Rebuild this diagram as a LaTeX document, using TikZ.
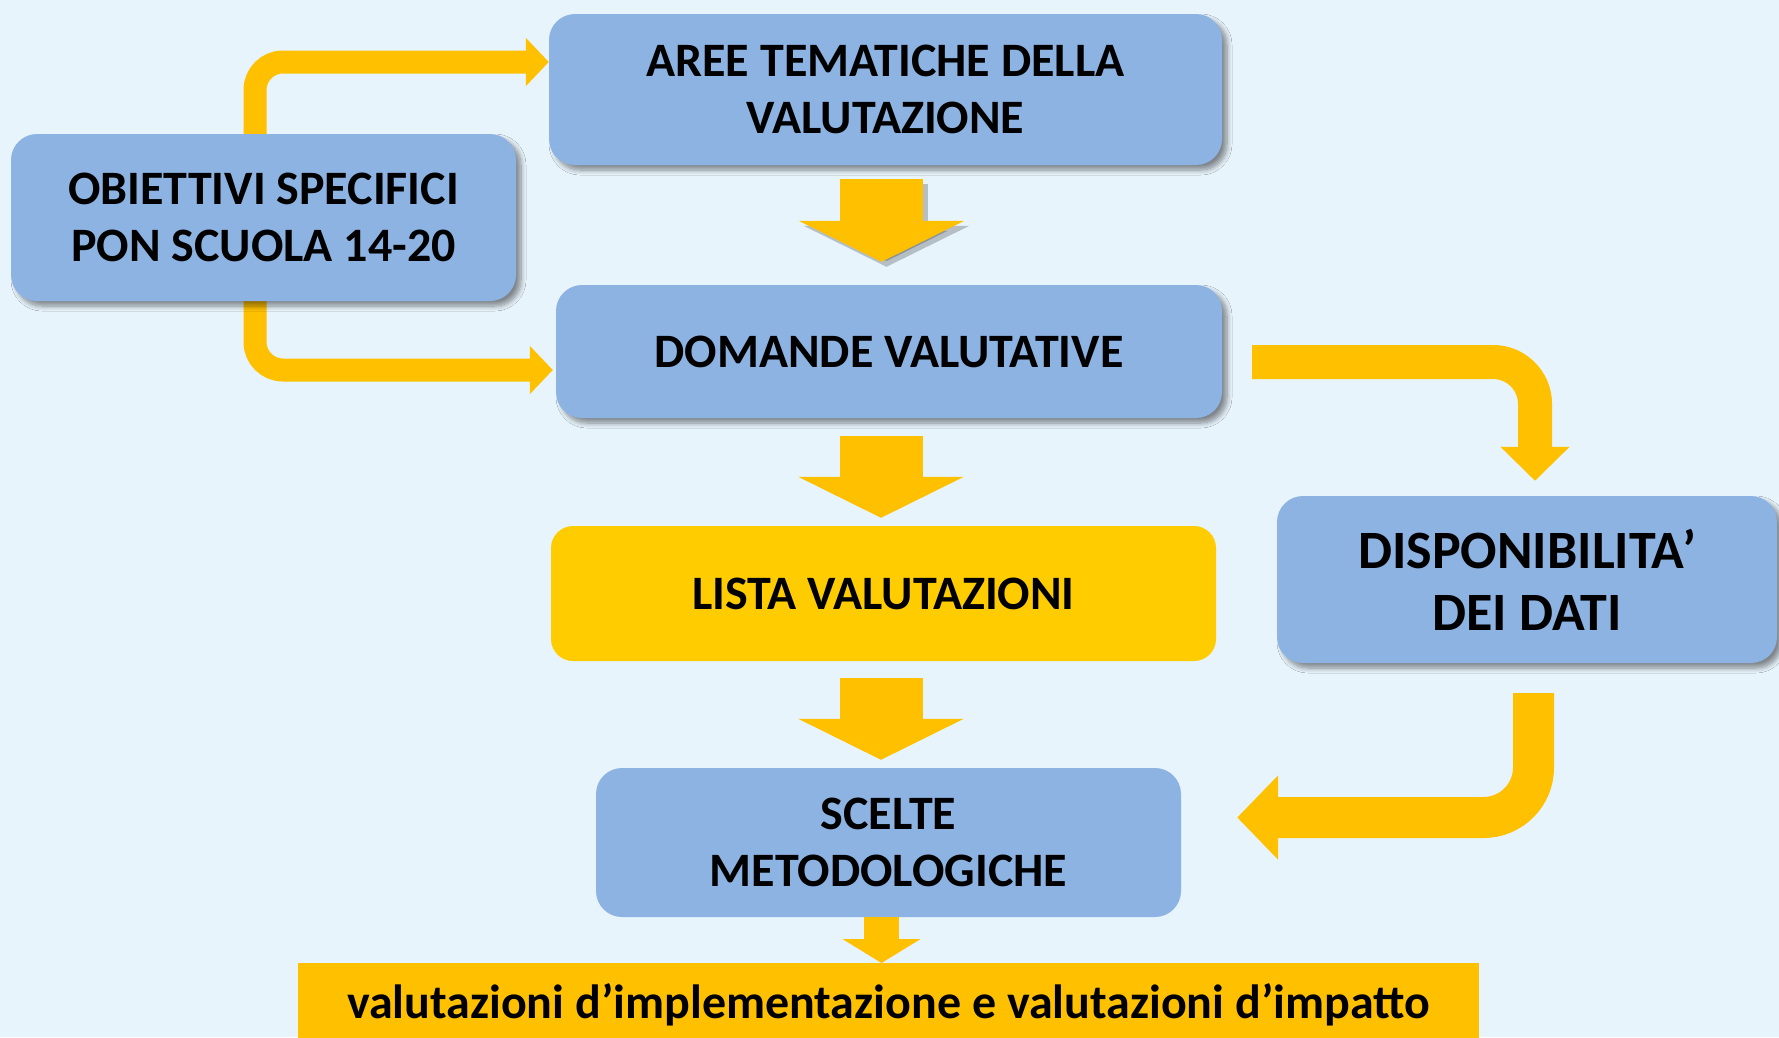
\documentclass[tikz,border=0pt]{standalone}
\usepackage{fontspec}
\setmainfont{Carlito}
\usetikzlibrary{arrows.meta,calc,shadows,shadows.blur,backgrounds}
\definecolor{bgc}{HTML}{E8F4FC}
\definecolor{boxblue}{HTML}{8DB3E2}
\definecolor{arry}{HTML}{FFC000}
\definecolor{listay}{HTML}{FFCC00}
\tikzset{
  bbox/.style={fill=boxblue, rounded corners=26pt, inner sep=0pt, align=center,
     font=\fontsize{48}{57}\selectfont\bfseries, text=black},
  shad/.style={blur shadow={shadow xshift=5pt, shadow yshift=-5pt, shadow blur steps=8, shadow blur radius=5pt, shadow opacity=45}},
  downarrow/.style={draw=arry, line width=83pt, -{Triangle[width=164pt,length=41pt]}},
  smallarrow/.style={draw=arry, line width=35pt, -{Triangle[width=77pt,length=24pt]}},
  leftarrow/.style={draw=arry, line width=23pt, rounded corners=28pt, -{Triangle[width=47pt,length=23pt]}},
  rarrowone/.style={draw=arry, line width=34pt, rounded corners=42pt, -{Triangle[width=67pt,length=34pt]}},
  rarrowtwo/.style={draw=arry, line width=41pt, rounded corners=50pt, -{Triangle[width=82pt,length=41pt]}},
}
\begin{document}
\begin{tikzpicture}[x=1pt,y=-1pt]
\useasboundingbox (0,0) rectangle (1779,1037);
% nodes
\node[bbox, shad, minimum width=673pt, minimum height=151pt] (aree) at (885.5,89.5) {AREE TEMATICHE DELLA\\VALUTAZIONE};
\node[bbox, shad, minimum width=505pt, minimum height=167pt] (obj) at (263.5,217.5) {OBIETTIVI SPECIFICI\\PON SCUOLA 14-20};
\node[bbox, shad, minimum width=666pt, minimum height=133pt] (domande) at (889,351.5) {DOMANDE VALUTATIVE};
\node[bbox, fill=listay, rounded corners=22pt, minimum width=665pt, minimum height=135pt] (lista) at (883.5,593.5) {LISTA VALUTAZIONI};
\node[bbox, shad, minimum width=500pt, minimum height=167pt, font=\fontsize{54}{62}\selectfont\bfseries] (disp) at (1527,579.5) {DISPONIBILITA’\\DEI DATI};
\node[bbox, minimum width=585pt, minimum height=149pt] (scelte) at (888.5,842.5) {SCELTE\\METODOLOGICHE};
\node[fill=arry, minimum width=1181pt, minimum height=90pt, inner sep=0pt, anchor=north] (bottom) at (888.5,963) {};
\node[font=\fontsize{48}{56}\selectfont\bfseries, anchor=base] (btext) at (888.5,1018) {valutazioni d’implementazione e valutazioni d’impatto};
\begin{scope}[on background layer]
\fill[bgc] (0,0) rectangle (1779,1037);
\draw[leftarrow] ($(obj.center)+(-8.5,0)$) |- ($(aree.west)+(0,-27.5)$);
\draw[leftarrow, shorten >=3pt] ($(obj.center)+(-8.5,0)$) |- ($(domande.west)+(0,18.5)$);
\end{scope}
% down arrows
\begin{scope}[transform canvas={xshift=5pt,yshift=-5pt}]
\draw[downarrow, draw=black, opacity=0.22] ($(aree.south)+(-4,14)$) -- ($(domande.north)+(-7.5,-23)$);
\end{scope}
\draw[downarrow] ($(aree.south)+(-4,14)$) coordinate (a1s) -- ($(domande.north)+(-7.5,-23)$) coordinate (a1e);
\draw[downarrow] ($(domande.south)+(-8,18)$) -- ($(lista.north)+(-2.5,-8)$);
\draw[downarrow] ($(lista.south)+(-2.5,17)$) -- ($(scelte.north)+(-7.5,-8)$);
\draw[smallarrow] ($(scelte.south)+(-7,0)$) -- ($(bottom.north)+(-7,0)$);
% bent arrows right
\draw[rarrowone] ($(domande.east)+(30,10.5)$) -| ($(disp.north)+(8,-15)$);
\draw[rarrowtwo] ($(disp.south)+(6.5,30)$) |- ($(scelte.east)+(56,-25)$);
\end{tikzpicture}
\end{document}
